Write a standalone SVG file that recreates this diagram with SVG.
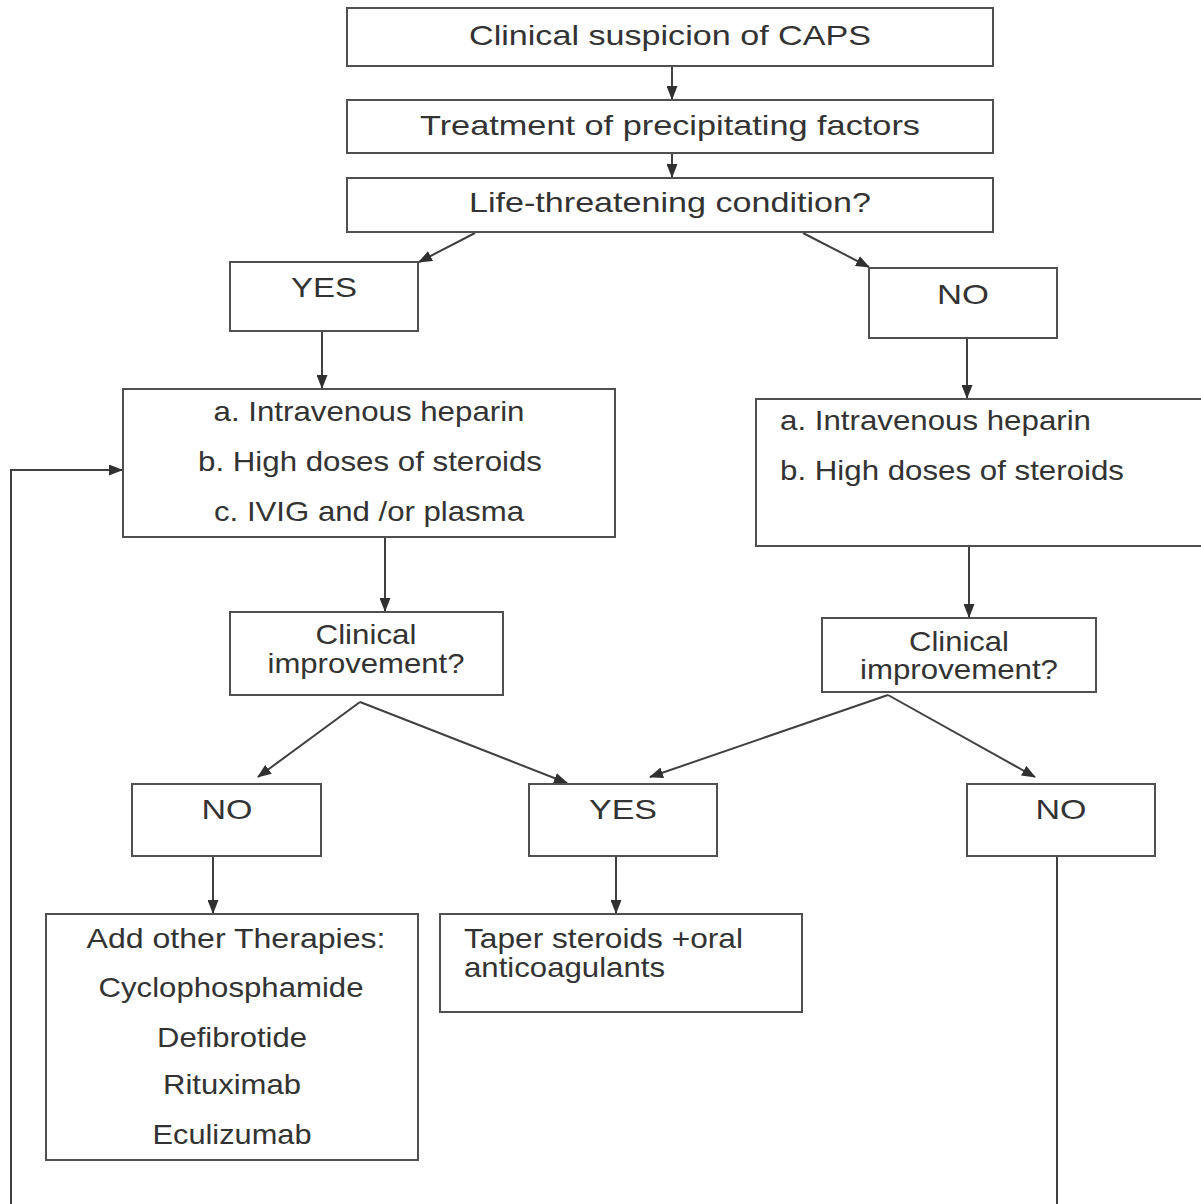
<svg xmlns="http://www.w3.org/2000/svg" width="1201" height="1204" viewBox="0 0 1201 1204">
<style>
.box{fill:#fff;stroke:#505050;stroke-width:2}
.t{font-family:"Liberation Sans",Arial,sans-serif;font-size:28px;fill:#333}
.c{text-anchor:middle}
.ln{fill:none;stroke:#404040;stroke-width:2}
</style>
<defs>
<marker id="ah" markerWidth="14" markerHeight="11" refX="13" refY="5.5" orient="auto" markerUnits="userSpaceOnUse">
<path d="M0,0 L14,5.5 L0,11 z" fill="#303030"/>
</marker>
</defs>
<rect width="1201" height="1204" fill="#fff"/>
<g id="connectors">
<line class="ln" x1="672" y1="66" x2="672" y2="99" marker-end="url(#ah)"/>
<line class="ln" x1="672" y1="153" x2="672" y2="177" marker-end="url(#ah)"/>
<line class="ln" x1="475" y1="233" x2="419" y2="262" marker-end="url(#ah)"/>
<line class="ln" x1="803" y1="233" x2="869" y2="267" marker-end="url(#ah)"/>
<line class="ln" x1="322" y1="331" x2="322" y2="388" marker-end="url(#ah)"/>
<line class="ln" x1="967" y1="338" x2="967" y2="398" marker-end="url(#ah)"/>
<line class="ln" x1="385" y1="537" x2="385" y2="611" marker-end="url(#ah)"/>
<line class="ln" x1="969" y1="546" x2="969" y2="617" marker-end="url(#ah)"/>
<line class="ln" x1="360" y1="702" x2="258" y2="777" marker-end="url(#ah)"/>
<line class="ln" x1="360" y1="702" x2="567" y2="783" marker-end="url(#ah)"/>
<line class="ln" x1="888" y1="695" x2="650" y2="777" marker-end="url(#ah)"/>
<line class="ln" x1="888" y1="695" x2="1035" y2="777" marker-end="url(#ah)"/>
<line class="ln" x1="213" y1="856" x2="213" y2="913" marker-end="url(#ah)"/>
<line class="ln" x1="616" y1="856" x2="616" y2="913" marker-end="url(#ah)"/>
<line class="ln" x1="1057" y1="856" x2="1057" y2="1204"/>
<polyline class="ln" points="11,1204 11,470 122,470" marker-end="url(#ah)"/>
</g>
<g id="n1"><rect class="box" x="347" y="8" width="646" height="58"/><text class="t c" x="670" y="45" textLength="402" lengthAdjust="spacingAndGlyphs">Clinical suspicion of CAPS</text></g>
<g id="n2"><rect class="box" x="347" y="100" width="646" height="53"/><text class="t c" x="670" y="135" textLength="500" lengthAdjust="spacingAndGlyphs">Treatment of precipitating factors</text></g>
<g id="n3"><rect class="box" x="347" y="178" width="646" height="54"/><text class="t c" x="670" y="212" textLength="402" lengthAdjust="spacingAndGlyphs">Life-threatening condition?</text></g>
<g id="n4"><rect class="box" x="230" y="262" width="188" height="69"/><text class="t c" x="324" y="297" textLength="66" lengthAdjust="spacingAndGlyphs">YES</text></g>
<g id="n5"><rect class="box" x="869" y="268" width="188" height="70"/><text class="t c" x="963" y="304" textLength="52" lengthAdjust="spacingAndGlyphs">NO</text></g>
<g id="n6"><rect class="box" x="123" y="389" width="492" height="148"/>
<text class="t c" x="369" y="421" textLength="311" lengthAdjust="spacingAndGlyphs">a. Intravenous heparin</text>
<text class="t c" x="370" y="471" textLength="344" lengthAdjust="spacingAndGlyphs">b. High doses of steroids</text>
<text class="t c" x="369" y="521" textLength="310" lengthAdjust="spacingAndGlyphs">c. IVIG and /or plasma</text></g>
<g id="n7"><rect class="box" x="756" y="399" width="470" height="147"/>
<text class="t" x="780" y="430" textLength="311" lengthAdjust="spacingAndGlyphs">a. Intravenous heparin</text>
<text class="t" x="780" y="480" textLength="344" lengthAdjust="spacingAndGlyphs">b. High doses of steroids</text></g>
<g id="n8"><rect class="box" x="230" y="612" width="273" height="83"/>
<text class="t c" x="366" y="644" textLength="101" lengthAdjust="spacingAndGlyphs">Clinical</text>
<text class="t c" x="366" y="673" textLength="197" lengthAdjust="spacingAndGlyphs">improvement?</text></g>
<g id="n9"><rect class="box" x="822" y="618" width="274" height="74"/>
<text class="t c" x="959" y="651" textLength="100" lengthAdjust="spacingAndGlyphs">Clinical</text>
<text class="t c" x="959" y="679" textLength="198" lengthAdjust="spacingAndGlyphs">improvement?</text></g>
<g id="n10"><rect class="box" x="132" y="784" width="189" height="72"/><text class="t c" x="227" y="819" textLength="51" lengthAdjust="spacingAndGlyphs">NO</text></g>
<g id="n11"><rect class="box" x="529" y="784" width="188" height="72"/><text class="t c" x="623" y="819" textLength="68" lengthAdjust="spacingAndGlyphs">YES</text></g>
<g id="n12"><rect class="box" x="967" y="784" width="188" height="72"/><text class="t c" x="1061" y="819" textLength="51" lengthAdjust="spacingAndGlyphs">NO</text></g>
<g id="n13"><rect class="box" x="46" y="914" width="372" height="246"/>
<text class="t c" x="236" y="948" textLength="299" lengthAdjust="spacingAndGlyphs">Add other Therapies:</text>
<text class="t c" x="231" y="997" textLength="265" lengthAdjust="spacingAndGlyphs">Cyclophosphamide</text>
<text class="t c" x="232" y="1047" textLength="150" lengthAdjust="spacingAndGlyphs">Defibrotide</text>
<text class="t c" x="232" y="1094" textLength="138" lengthAdjust="spacingAndGlyphs">Rituximab</text>
<text class="t c" x="232" y="1144" textLength="159" lengthAdjust="spacingAndGlyphs">Eculizumab</text></g>
<g id="n14"><rect class="box" x="440" y="914" width="362" height="98"/>
<text class="t" x="464" y="948" textLength="279" lengthAdjust="spacingAndGlyphs">Taper steroids +oral</text>
<text class="t" x="464" y="977" textLength="201" lengthAdjust="spacingAndGlyphs">anticoagulants</text></g>
</svg>
